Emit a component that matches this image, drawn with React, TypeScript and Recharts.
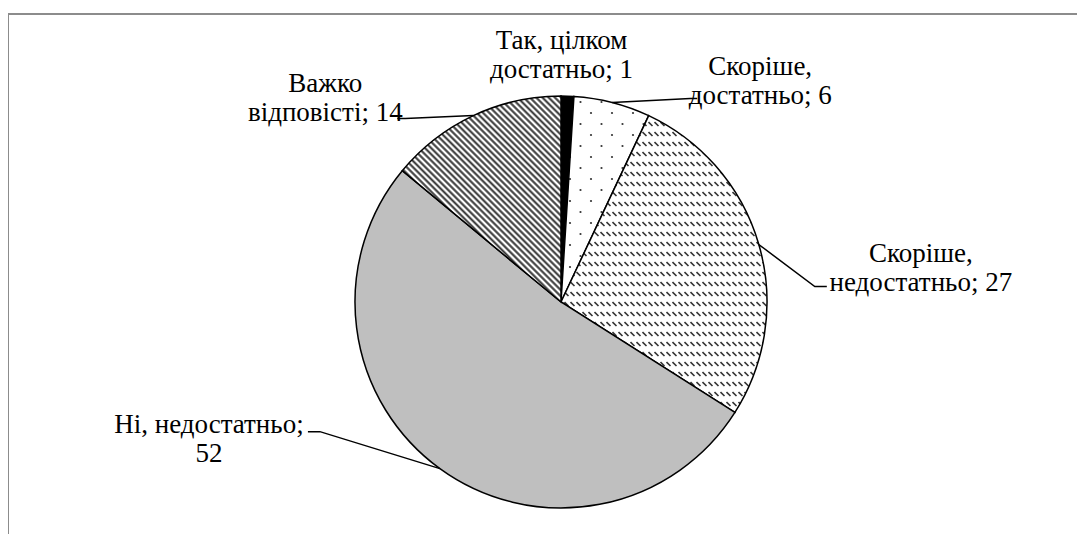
import { PieChart, Pie, Cell } from 'recharts';

const categories = ['Так, цілком достатньо', 'Скоріше, достатньо', 'Скоріше, недостатньо', 'Ні, недостатньо', 'Важко відповісті'];
const values = [1, 6, 27, 52, 14];
// how many words of "name; value" go on the first line of each label
const firstLineWords = [2, 1, 1, 2, 1];
const fills = ['#000000', 'url(#dots)', 'url(#dashDiag)', '#bfbfbf', 'url(#stripes)'];

// label placement relative to the slice's point on the rim
const labelLayout = [
  { tx: -6, ty: -42, elbow: null, tick: 0 },
  { tx: 148, ty: -22, elbow: [78, -4], tick: 7 },
  { tx: 162, ty: 23, elbow: [56, 42], tick: 12 },
  { tx: -231, ty: -30, elbow: [-120, -37], tick: -12 },
  { tx: -148, ty: -18, elbow: [-68, 3], tick: -8 },
];

const data = categories.map((name, i) => ({ name, value: values[i] }));

const RAD = Math.PI / 180;
const FONT_SIZE = 27;
const LINE_H = 29;

function renderLabel(props: any) {
  const { cx, cy, midAngle, outerRadius, index, name, value } = props;
  const ax = cx + outerRadius * Math.cos(-midAngle * RAD);
  const ay = cy + outerRadius * Math.sin(-midAngle * RAD);
  const lay = labelLayout[index];
  const words = `${name}; ${value}`.split(' ');
  const n = firstLineWords[index];
  const lines = [words.slice(0, n).join(' '), words.slice(n).join(' ')];
  const tx = ax + lay.tx;
  const ty = ay + lay.ty;
  let leader = null;
  if (lay.elbow) {
    const ex = ax + lay.elbow[0];
    const ey = ay + lay.elbow[1];
    leader = (
      <polyline
        points={`${ax},${ay} ${ex},${ey} ${ex + lay.tick},${ey}`}
        fill="none"
        stroke="#000"
        strokeWidth={1.5}
      />
    );
  }
  return (
    <g key={`lbl-${index}`}>
      {leader}
      {lines.map((l, i) => (
        <text
          key={i}
          x={tx}
          y={ty + (i - (lines.length - 1) / 2) * LINE_H + FONT_SIZE * 0.33}
          textAnchor="middle"
          fontFamily="Liberation Serif"
          fontSize={FONT_SIZE}
          fill="#000"
        >
          {l}
        </text>
      ))}
    </g>
  );
}

export default function App() {
  return (
    <div style={{ position: 'relative', margin: -8, width: 1085, height: 542 }}>
      <div
        style={{
          position: 'absolute',
          left: 7,
          top: 13,
          width: 1078,
          height: 529,
          borderLeft: '2px solid #8c8c8c',
          borderTop: '2px solid #8c8c8c',
        }}
      />
      <div style={{ position: 'absolute', left: 0, top: 0 }}>
        <PieChart width={1085} height={542} margin={{ top: 0, right: 0, bottom: 0, left: 0 }}>
          <defs>
            <pattern id="dots" width={21} height={22} patternUnits="userSpaceOnUse">
              <rect width={21} height={22} fill="#fff" />
              <circle cx={3} cy={3} r={1.1} fill="#333" />
              <circle cx={13.5} cy={14} r={1.1} fill="#333" />
            </pattern>
            <pattern id="dashDiag" width={6} height={10} patternUnits="userSpaceOnUse">
              <rect width={6} height={10} fill="#fff" />
              <line x1={0.5} y1={2} x2={4.5} y2={6} stroke="#333" strokeWidth={1.6} />
            </pattern>
            <pattern id="stripes" width={4.4} height={4.4} patternUnits="userSpaceOnUse" patternTransform="rotate(45)">
              <rect width={4.4} height={4.4} fill="#fff" />
              <line x1={0} y1={2.2} x2={4.4} y2={2.2} stroke="#333" strokeWidth={2} />
            </pattern>
          </defs>
          <Pie
            data={data}
            dataKey="value"
            nameKey="name"
            cx={561}
            cy={302}
            outerRadius={206}
            startAngle={90}
            endAngle={-270}
            stroke="#000"
            strokeWidth={1.5}
            label={renderLabel}
            labelLine={false}
            isAnimationActive={false}
          >
            {data.map((d, i) => (
              <Cell key={d.name} fill={fills[i]} />
            ))}
          </Pie>
        </PieChart>
      </div>
    </div>
  );
}
